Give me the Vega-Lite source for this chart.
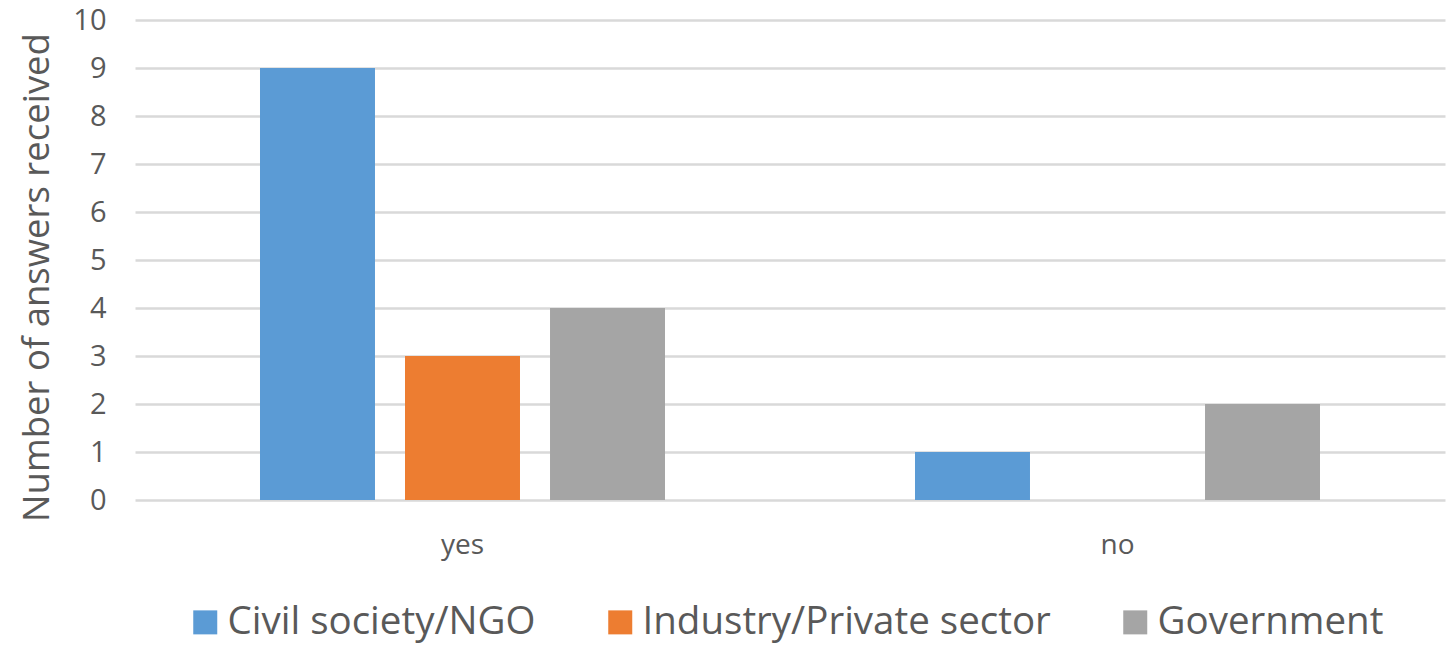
{
  "$schema": "https://vega.github.io/schema/vega-lite/v6.json",
  "autosize": {"type": "none"},
  "width": 1310,
  "height": 480,
  "padding": {"left": 135, "top": 20, "right": 7, "bottom": 145},
  "background": "white",
  "config": {
    "font": "Open Sans",
    "view": {"stroke": null},
    "axis": {"labelColor": "#595959", "titleColor": "#595959", "titleFontWeight": "normal"}
  },
  "data": {
    "values": [
      {"answer": "yes", "group": "Civil society/NGO", "count": 9},
      {"answer": "yes", "group": "Industry/Private sector", "count": 3},
      {"answer": "yes", "group": "Government", "count": 4},
      {"answer": "no", "group": "Civil society/NGO", "count": 1},
      {"answer": "no", "group": "Industry/Private sector", "count": 0},
      {"answer": "no", "group": "Government", "count": 2}
    ]
  },
  "mark": {"type": "bar"},
  "encoding": {
    "x": {
      "field": "answer", "type": "nominal", "sort": ["yes", "no"],
      "scale": {"paddingInner": 0, "paddingOuter": 0},
      "axis": {"title": null, "labelAngle": 0, "labelFontSize": 28, "labelBaseline": "alphabetic", "labelPadding": 53, "ticks": false, "domain": false, "grid": false}
    },
    "xOffset": {
      "field": "group", "type": "nominal",
      "sort": ["Civil society/NGO", "Industry/Private sector", "Government"],
      "scale": {"paddingInner": 0.207, "paddingOuter": 0.862}
    },
    "y": {
      "field": "count", "type": "quantitative",
      "scale": {"domain": [0, 10], "nice": false},
      "axis": {
        "title": "Number of answers received", "titleFontSize": 36.5,
        "titleX": -87, "titleY": 257, "titleBaseline": "alphabetic", "titleAlign": "center", "titleAngle": -90,
        "values": [0, 1, 2, 3, 4, 5, 6, 7, 8, 9, 10], "labelFontSize": 29, "labelPadding": 29,
        "ticks": false, "domain": false, "grid": true, "gridColor": "#d9d9d9", "gridWidth": 2.5
      }
    },
    "color": {
      "field": "group", "type": "nominal",
      "sort": ["Civil society/NGO", "Industry/Private sector", "Government"],
      "scale": {"domain": ["Civil society/NGO", "Industry/Private sector", "Government"], "range": ["#5B9BD5", "#ED7D31", "#A5A5A5"]},
      "legend": {
        "title": null, "orient": "none", "direction": "horizontal", "legendX": 51, "legendY": 583, "padding": 0,
        "symbolType": "square", "symbolSize": 576, "symbolStrokeWidth": 0, "labelFontSize": 38.5, "labelColor": "#595959",
        "labelOffset": 3, "columnPadding": 65, "labelLimit": 600
      }
    }
  }
}
